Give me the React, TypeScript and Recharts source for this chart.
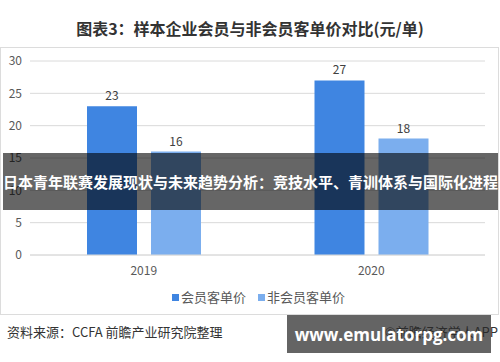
import React from 'react';
import { BarChart, Bar, XAxis, YAxis, CartesianGrid, LabelList } from 'recharts';

const years = ['2019', '2020'];
const memberPrice = [23, 27];
const nonMemberPrice = [16, 18];
const yTicks = [0, 5, 10, 15, 20, 25, 30];
const seriesNames = ['会员客单价', '非会员客单价'];

const COLORS = ['#3f85e1', '#7baeee'];
const FONT = '"Noto Sans CJK SC", "Noto Sans", sans-serif';

const data = years.map((year, i) => ({
  year,
  member: memberPrice[i],
  nonMember: nonMemberPrice[i],
}));

const App: React.FC = () => {
  return (
    <div
      style={{
        position: 'absolute',
        left: 0,
        top: 0,
        width: 500,
        height: 362,
        background: '#fff',
        fontFamily: FONT,
        overflow: 'hidden',
      }}
    >
      {/* title */}
      <div
        style={{
          position: 'absolute',
          top: 16,
          left: 0,
          width: 500,
          textAlign: 'center',
          fontSize: 16,
          fontWeight: 'bold',
          color: '#333',
          lineHeight: '24px',
        }}
      >
        图表3：样本企业会员与非会员客单价对比(元/单)
      </div>

      {/* chart frame */}
      <div
        style={{
          position: 'absolute',
          left: 0,
          top: 47,
          width: 497,
          height: 266,
          border: '1px solid #dcdcdc',
        }}
      />

      <div style={{ position: 'absolute', left: 0, top: 0 }}>
        <BarChart
          width={500}
          height={290}
          data={data}
          margin={{ top: 61, right: 15, left: 0, bottom: 5 }}
          barGap={14}
          barSize={50}
        >
          <CartesianGrid vertical={false} stroke="#dadada" />
          <XAxis
            dataKey="year"
            axisLine={{ stroke: '#dadada' }}
            tickLine={false}
            tickMargin={5}
            height={30}
            tick={{ fill: '#595959', fontSize: 12, fontFamily: FONT }}
          />
          <YAxis
            width={30}
            domain={[0, 30]}
            ticks={yTicks}
            axisLine={false}
            tickLine={false}
            tick={{ fill: '#595959', fontSize: 12, fontFamily: FONT }}
          />
          <Bar dataKey="member" fill={COLORS[0]} isAnimationActive={false}>
            <LabelList dataKey="member" position="top" offset={6} fill="#404040" fontSize={12} fontFamily={FONT} />
          </Bar>
          <Bar dataKey="nonMember" fill={COLORS[1]} isAnimationActive={false}>
            <LabelList dataKey="nonMember" position="top" offset={6} fill="#404040" fontSize={12} fontFamily={FONT} />
          </Bar>
        </BarChart>
      </div>

      {/* legend */}
      <div
        style={{
          position: 'absolute',
          top: 288,
          left: 172,
          display: 'flex',
          fontSize: 13,
          color: '#595959',
          lineHeight: '18px',
        }}
      >
        {seriesNames.map((name, i) => (
          <span key={name} style={{ display: 'flex', alignItems: 'center', marginRight: 12 }}>
            <span style={{ width: 7, height: 7, background: COLORS[i], marginRight: 2 }} />
            {name}
          </span>
        ))}
      </div>

      {/* source */}
      <div style={{ position: 'absolute', top: 323, left: 7, fontSize: 13, color: '#333', lineHeight: '18px' }}>
        资料来源：CCFA 前瞻产业研究院整理
      </div>
      <div style={{ position: 'absolute', top: 323, right: 2, fontSize: 13, color: '#333', lineHeight: '18px' }}>
        ©前瞻经济学人APP
      </div>

      {/* overlay banner */}
      <div
        style={{
          position: 'absolute',
          top: 153,
          left: 3,
          width: 495,
          height: 57,
          background: 'rgba(0,0,0,0.6)',
          color: '#fff',
          fontSize: 15,
          fontWeight: 'bold',
          display: 'flex',
          alignItems: 'center',
          justifyContent: 'center',
          whiteSpace: 'nowrap',
        }}
      >
        日本青年联赛发展现状与未来趋势分析：竞技水平、青训体系与国际化进程
      </div>

      {/* site label */}
      <div
        style={{
          position: 'absolute',
          top: 315,
          left: 287,
          width: 204,
          height: 38,
          background: 'rgba(40,40,40,0.72)',
          color: '#fff',
          fontSize: 17,
          fontWeight: 'bold',
          fontFamily: '"Open Sans", sans-serif',
          display: 'flex',
          alignItems: 'center',
          justifyContent: 'center',
        }}
      >
        www.emulatorpg.com
      </div>
    </div>
  );
};

export default App;
